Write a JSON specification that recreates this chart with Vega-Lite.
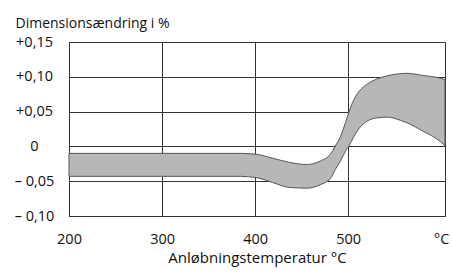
{
  "$schema": "https://vega.github.io/schema/vega-lite/v6.json",
  "width": 376,
  "height": 174,
  "autosize": {"type": "none"},
  "padding": {"left": 69, "top": 42, "right": 7, "bottom": 59},
  "background": "white",
  "config": {
    "view": {"stroke": "#333333", "strokeWidth": 1},
    "font": "Open Sans"
  },
  "data": {
    "values": [
      {"t": 200, "hi": -0.010, "lo": -0.043},
      {"t": 384, "hi": -0.010, "lo": -0.043},
      {"t": 402, "hi": -0.0115, "lo": -0.045},
      {"t": 419, "hi": -0.017, "lo": -0.052},
      {"t": 437, "hi": -0.023, "lo": -0.059},
      {"t": 456, "hi": -0.026, "lo": -0.060},
      {"t": 470, "hi": -0.021, "lo": -0.055},
      {"t": 481, "hi": -0.011, "lo": -0.046},
      {"t": 486, "hi": 0.000, "lo": -0.0335},
      {"t": 492, "hi": 0.015, "lo": -0.020},
      {"t": 497, "hi": 0.034, "lo": -0.007},
      {"t": 501, "hi": 0.050, "lo": 0.001},
      {"t": 506, "hi": 0.067, "lo": 0.014},
      {"t": 513, "hi": 0.081, "lo": 0.028},
      {"t": 520, "hi": 0.089, "lo": 0.036},
      {"t": 531, "hi": 0.097, "lo": 0.041},
      {"t": 542, "hi": 0.1015, "lo": 0.042},
      {"t": 556, "hi": 0.1045, "lo": 0.0375},
      {"t": 563, "hi": 0.105, "lo": 0.034},
      {"t": 580, "hi": 0.102, "lo": 0.022},
      {"t": 599, "hi": 0.098, "lo": 0.007},
      {"t": 604, "hi": 0.096, "lo": 0.001}
    ]
  },
  "mark": {"type": "area", "interpolate": "monotone", "fill": "#b7b7b7", "fillOpacity": 1, "stroke": "#555555", "strokeWidth": 1},
  "encoding": {
    "x": {
      "field": "t", "type": "quantitative",
      "scale": {"domain": [200, 604], "nice": false, "zero": false},
      "axis": {
        "values": [200, 300, 400, 500, 600],
        "labelExpr": "datum.value == 600 ? '°C' : datum.label",
        "domain": false, "ticks": false,
        "grid": true, "gridColor": "#333333", "gridWidth": 1,
        "gridOpacity": {"condition": {"test": "datum.value == 600", "value": 0}, "value": 1},
        "labelFontSize": 14.5, "labelColor": "#111111", "labelPadding": 16,
        "labelFlush": false,
        "title": "Anløbningstemperatur °C",
        "titleFontSize": 15, "titleFontWeight": "normal", "titleColor": "#111111",
        "titlePadding": 5
      }
    },
    "y": {
      "field": "lo", "type": "quantitative",
      "scale": {"domain": [-0.10, 0.15], "nice": false, "zero": false},
      "axis": {
        "values": [-0.10, -0.05, 0, 0.05, 0.10, 0.15],
        "labelExpr": "datum.value > 0.001 ? '+' + replace(format(datum.value, '.2f'), '.', ',') : (datum.value < -0.001 ? '– ' + replace(format(-datum.value, '.2f'), '.', ',') : '0')",
        "domain": false, "ticks": false,
        "grid": true, "gridColor": "#333333", "gridOpacity": 1, "gridWidth": 1,
        "labelFontSize": 14.5, "labelColor": "#111111", "labelAlign": "center", "labelPadding": 35,
        "labelFlush": false,
        "title": "Dimensionsændring i %",
        "titleAngle": 0, "titleAlign": "left", "titleBaseline": "alphabetic",
        "titleX": -54, "titleY": -15,
        "titleFontSize": 14, "titleFontWeight": "normal", "titleColor": "#111111"
      }
    },
    "y2": {"field": "hi"}
  }
}
